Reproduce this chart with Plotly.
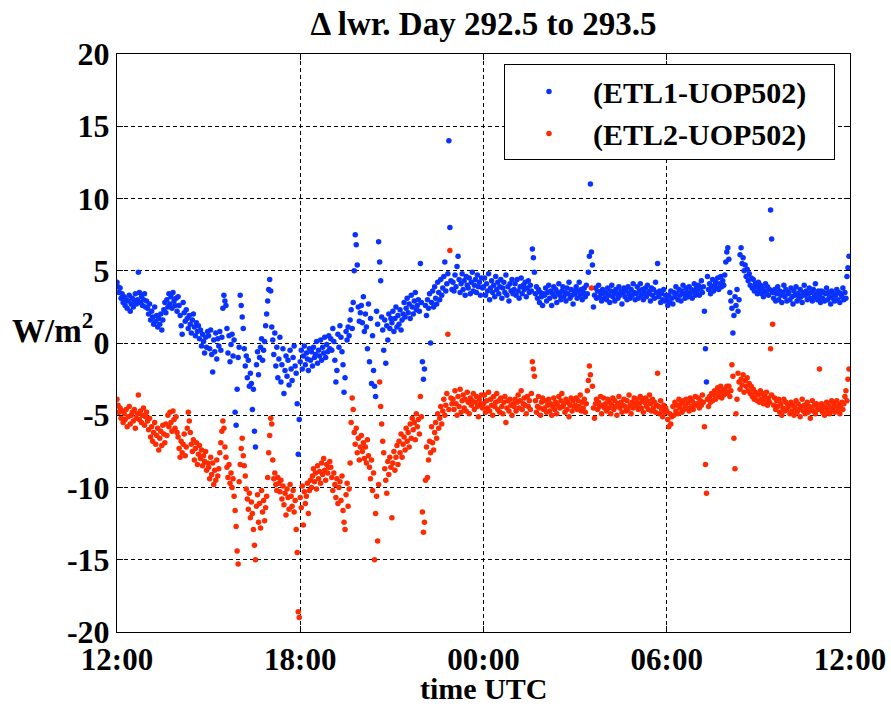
import pandas as pd
import plotly.graph_objects as go

# ---- data: 2-minute samples, 30 per hour, from 12:00 UTC (day 292.5) ----
start_time = "2000-10-18 12:00"
end_time = "2000-10-19 12:00"
step_minutes = 2

etl1_minus_uop = [
    # 12h
    4.2, 3.9, 3.5, 3.8, 3.1, 3.4, 2.8, 3.2, 2.6, 3.0, 2.4, 2.9, 3.3, 2.2, 2.7, 3.1, 2.5, 2.9, 3.4, 2.7, 3.0, 4.9, 3.5, 2.8, 3.2, 2.6, 3.0, 3.4, 2.5, 2.9,
    # 13h
    2.4, 2.0, 2.7, 1.6, 2.2, 1.8, 1.3, 2.5, 1.5, 1.9, 1.1, 1.7, 1.3, 2.0, 0.9, 1.6, 2.3, 2.8, 2.1, 3.0, 2.5, 3.4, 2.7, 3.2, 2.4, 3.5, 2.9, 2.6, 3.1, 2.2,
    # 14h
    3.2, 2.6, 1.9, 1.2, 0.6, 2.8, 2.1, 1.5, 2.3, 1.7, 1.0, 1.9, 1.3, 0.7, 1.6, 2.0, 1.1, 0.5, 1.4, 0.8, 1.2, 0.3, 0.9, -0.2, 0.6, 0.1, -0.7, 0.4, -0.3, 0.8,
    # 15h
    0.5, -0.4, 0.9, -0.8, -2.0, 0.2, -0.6, 0.7, -1.1, 0.3, -0.2, 0.8, -0.5, 0.4, 2.4, 3.3, 2.9, 2.6, 1.0, -0.7, 0.5, -1.3, -0.1, 0.6, -0.9, 0.2, -4.8, -5.7, -3.2, -1.0,
    # 16h
    -0.3, 3.3, 2.6, 1.8, 1.0, -0.4, -1.6, -0.9, -2.4, -1.2, -3.0, -2.1, -2.8, -4.6, -3.2, -6.1, -7.2, -1.5, -0.6, -2.2, -1.0, -0.3, 0.3, -1.2, -0.5, 0.1, 1.2, 2.0, 2.9, 3.7,
    # 17h
    4.4, 3.6, 1.1, 0.2, -0.8, 0.7, -1.6, -0.3, -2.4, -1.1, 0.4, -2.7, -1.5, -0.4, -3.5, -1.9, -0.9, -2.3, -1.2, -2.9, -0.5, -1.8, -2.6, -1.0, -0.2, -1.6, -2.1, -4.2, -7.7, -5.3,
    # 18h
    -1.3, -0.5, -1.8, -0.9, -0.2, -1.5, -0.7, -1.1, -1.9, -0.4, -1.2, -0.6, -1.6, -0.3, -1.0, -0.8, 0.1, -1.4, -0.5, -0.9, 0.2, -1.2, -0.3, -0.7, 0.4, -1.0, -0.1, -0.6, 0.5, -0.4,
    # 19h
    0.3, -0.5, 1.0, 0.1, -1.2, -2.7, -1.9, 0.6, -0.3, 1.2, 0.4, -0.6, -1.5, -3.4, -2.4, 0.8, 0.2, 1.1, 0.5, 1.6, 2.3, 1.0, 2.8, 5.0, 7.5, 6.8, 5.4, 2.5, 1.5, 2.1,
    # 20h
    2.6, 1.4, 3.2, 0.8, 2.0, 1.1, -0.4, 2.7, -1.3, 1.7, -2.8, 0.5, -1.9, -3.0, -3.7, 2.2, 1.3, 7.0, 5.6, 4.3, 1.8, 0.9, -0.5, 1.6, -1.4, 1.2, 0.2, 2.0, 1.0, 1.7,
    # 21h
    1.4, 2.2, 0.8, 1.7, 2.5, 1.1, 1.9, 1.3, 2.3, 0.9, 1.6, 2.0, 2.8, 1.8, 2.4, 3.1, 2.1, 2.7, 1.7, 3.3, 2.5, 2.0, 2.9, 3.5, 2.3, 2.6, 3.0, 2.2, 5.5, 2.8,
    # 22h
    -1.3, -2.5, -1.8, 2.6, 1.9, 3.0, 2.4, 3.4, 0.0, 2.8, 3.6, 2.5, 3.9, 3.1, 2.7, 4.2, 3.5, 3.0, 4.4, 3.3, 3.8, 4.6, 5.6, 3.6, 4.1, 4.8, 14.0, 8.0, 4.3, 3.7,
    # 23h
    4.2, 3.6, 4.7, 3.9, 5.3, 6.0, 4.4, 3.5, 4.1, 4.8, 3.7, 4.3, 3.3, 4.6, 4.0, 3.8, 4.5, 3.4, 4.2, 4.9, 3.6, 4.0, 4.4, 3.5, 4.7, 3.9, 4.2, 3.3, 4.5, 3.8,
    # 00h
    3.9, 4.5, 3.3, 4.1, 3.6, 4.8, 3.0, 3.8, 4.3, 3.5, 4.0, 3.2, 4.6, 3.7, 4.2, 3.4, 3.9, 4.4, 3.1, 3.8, 4.2, 3.5, 4.7, 3.3, 3.9, 2.9, 4.1, 3.6, 4.4, 3.4,
    # 01h
    3.7, 4.1, 3.3, 4.4, 3.6, 3.1, 3.9, 4.5, 3.4, 4.0, 3.7, 4.2, 3.2, 3.8, 4.3, 3.5, 4.0, 3.6, 6.5, 5.9, 4.9, 3.4, 3.9, 3.1, 3.7, 2.8, 3.5, 3.2, 2.6, 3.4,
    # 02h
    3.3, 3.8, 2.9, 3.5, 4.0, 3.1, 3.6, 2.6, 3.4, 3.9, 3.2, 3.7, 2.8, 3.5, 4.1, 3.3, 3.0, 3.6, 3.9, 3.2, 3.5, 2.9, 3.8, 3.4, 4.2, 3.1, 3.7, 3.3, 2.7, 3.6,
    # 03h
    3.4, 3.9, 3.1, 3.6, 4.2, 3.3, 3.7, 3.0, 3.5, 3.8, 3.2, 4.0, 3.4, 4.9, 6.0, 11.0, 6.3, 5.4, 2.5, 3.3, 3.8, 3.1, 3.6, 4.0, 3.2, 3.5, 2.9, 3.7, 3.4, 3.1,
    # 04h
    3.5, 3.0, 3.8, 3.3, 2.8, 3.6, 4.0, 3.2, 3.5, 2.9, 3.7, 3.4, 3.1, 3.9, 3.3, 3.6, 2.7, 3.5, 3.8, 3.2, 3.6, 3.0, 3.9, 3.4, 3.1, 3.7, 3.3, 4.1, 3.5, 3.0,
    # 05h
    3.4, 3.9, 3.1, 3.6, 4.1, 3.3, 3.7, 3.0, 3.5, 3.8, 3.2, 4.0, 3.4, 3.6, 2.9, 3.8, 3.3, 3.7, 3.1, 4.2, 3.5, 5.5, 3.2, 3.6, 2.8, 3.4, 3.0, 3.7, 2.9, 3.3,
    # 06h
    3.0, 2.6, 3.3, 2.8, 3.6, 3.1, 2.7, 3.5, 3.2, 3.9, 3.4, 3.0, 3.7, 3.3, 2.9, 3.6, 4.0, 3.4, 3.1, 3.8, 3.5, 3.2, 3.9, 3.4, 3.7, 3.1, 3.6, 4.1, 3.3, 3.8,
    # 07h
    3.6, 4.0, 3.3, 3.8, 4.3, 3.5, 3.9, 2.2, -0.4, -2.7, 4.6, 3.7, 4.1, 3.4, 3.9, 4.4, 3.6, 4.0, 4.2, 3.8, 4.5, 3.7, 4.1, 4.6, 3.9, 4.3, 4.0, 4.7, 5.6, 6.3,
    # 08h
    6.6, 5.8, 3.5, 2.9, 2.4, 0.7, 1.9, 3.2, 2.6, 3.7, 2.2, 3.0, 6.1, 6.6, 5.5, 5.9, 5.0, 5.4, 4.6, 5.1, 4.3, 4.8, 4.0, 4.5, 3.8, 4.4, 3.6, 4.1, 3.9, 3.4,
    # 09h
    4.2, 3.7, 4.0, 3.4, 3.8, 3.2, 3.6, 4.1, 3.5, 3.9, 3.3, 3.7, 9.2, 7.2, 3.5, 3.1, 3.7, 2.9, 3.4, 3.9, 3.0, 3.6, 3.3, 2.8, 3.5, 4.0, 3.2, 3.7, 2.9, 3.4,
    # 10h
    3.5, 3.0, 3.8, 3.2, 2.7, 3.6, 3.3, 3.9, 2.9, 3.4, 3.1, 3.7, 3.2, 2.8, 3.5, 4.0, 3.3, 3.6, 3.0, 3.4, 3.8, 3.1, 3.5, 2.9, 3.7, 3.2, 4.1, 3.4, 3.0, 3.6,
    # 11h
    3.3, 2.8, 3.6, 3.1, 3.5, 2.9, 3.4, 3.8, 3.0, 3.5, 3.2, 2.7, 3.6, 3.1, 3.4, 2.9, 3.3, 3.7, 3.0, 3.5, 2.8, 3.4, 3.2, 3.8, 3.0, 3.5, 3.1, 4.6, 5.2, 6.0,
]

etl2_minus_uop = [
    # 12h
    -3.9, -4.3, -4.8, -4.5, -5.2, -4.7, -5.5, -4.9, -5.3, -4.6, -5.8, -5.1, -4.4, -5.6, -5.0, -4.8, -5.4, -4.6, -5.9, -5.2, -4.9, -3.6, -5.3, -4.7, -5.5, -5.0, -4.5, -5.7, -5.1, -4.8,
    # 13h
    -5.4, -6.0, -5.2, -6.5, -5.8, -6.8, -6.2, -5.5, -7.0, -6.4, -5.9, -7.4, -6.6, -6.1, -7.1, -5.7, -6.3, -6.9, -5.6, -6.4, -5.0, -5.8, -4.8, -5.5, -6.1, -4.7, -5.3, -5.9, -5.1, -6.2,
    # 14h
    -6.5, -7.3, -7.9, -6.8, -7.6, -7.0, -6.3, -7.8, -7.2, -5.9, -4.8, -5.4, -6.2, -7.0, -7.5, -6.7, -8.1, -7.3, -6.9, -8.4, -7.7, -7.1, -8.0, -7.4, -8.5, -7.8, -8.2, -7.5, -8.8, -8.3,
    # 15h
    -8.6, -9.4, -7.9, -9.1, -8.3, -9.8, -8.8, -9.5, -8.1, -9.2, -8.7, -7.6, -6.9, -6.1, -5.4, -5.9, -7.2, -7.9, -8.6, -9.3, -8.4, -9.7, -9.0, -10.0, -9.4, -10.6, -11.6, -12.7, -14.4, -15.3,
    # 16h
    -9.6, -8.4, -7.3, -6.6, -7.8, -8.5, -9.2, -10.1, -10.8, -11.5, -10.4, -12.1, -11.0, -11.8, -12.9, -14.0, -15.0, -11.3, -10.5, -12.4, -11.1, -12.8, -10.2, -11.7, -10.9, -12.3, -11.4, -10.6, -9.3, -7.6,
    # 17h
    -6.4, -5.2, -5.6, -8.1, -9.4, -9.0, -9.8, -10.2, -9.3, -9.7, -10.3, -9.5, -10.8, -9.9, -11.2, -10.4, -11.9, -10.1, -10.7, -11.5, -9.8, -10.6, -11.3, -10.2, -11.7, -10.9, -12.9, -14.5, -18.6, -19.0,
    # 18h
    -10.7, -11.4, -9.9, -12.6, -10.3, -11.1, -10.6, -9.7, -11.8, -10.2, -9.5, -10.0, -9.2, -8.7, -9.6, -9.0, -10.1, -8.5, -9.4, -8.9, -9.7, -8.3, -9.1, -8.0, -8.8, -9.5, -8.4, -9.0, -8.6, -8.2,
    # 19h
    -8.6, -9.3, -10.2, -9.0, -9.8, -10.7, -9.4, -11.1, -10.0, -9.6, -10.9, -9.2, -11.6, -12.4, -12.9, -10.5, -9.7, -11.3, -10.1, -8.3, -5.5, -3.8, -4.6, -6.2, -7.0, -5.9, -7.6, -6.6, -8.1, -7.2,
    # 20h
    -6.4, -7.5, -6.9, -8.0, -7.2, -8.3, -6.7, -7.8, -8.6, -9.4, -8.1, -10.2, -9.0, -15.0, -11.8, -10.6, -13.7, -9.8, -2.7, -4.4, -5.6, -6.8, -7.6, -8.7, -9.5, -10.4, -8.2, -9.1, -7.9, -8.6,
    # 21h
    -12.1, -8.3, -7.5, -8.8, -7.9, -7.1, -8.4, -6.8, -7.6, -6.3, -7.9, -7.0, -6.5, -7.4, -5.9, -6.8, -6.2, -7.2, -5.6, -6.6, -5.2, -6.0, -5.5, -6.7, -4.9, -5.8, -5.3, -6.3, -3.7, -5.1,
    # 22h
    -11.7, -13.1, -12.4, -9.5, -7.2, -9.3, -8.1, -6.8, -7.6, -5.8, -6.9, -7.4, -6.2, -5.5, -6.6, -4.9, -5.9, -5.2, -4.4, -5.6, -4.7, -3.9, -5.0, -4.3, -3.5, 0.6, -4.6, 6.4, -3.8, -4.2,
    # 23h
    -3.9, -4.6, -3.3, -4.2, -5.0, -3.7, -4.4, -3.2, -4.8, -4.0, -3.6, -4.5, -3.9, -4.7, -3.4, -4.1, -4.9, -3.8, -4.3, -4.0, -3.5, -4.6, -4.1, -3.7, -4.4, -5.1, -3.9, -4.2, -3.6, -4.5,
    # 00h
    -4.2, -3.6, -4.8, -4.0, -4.5, -3.4, -4.7, -3.9, -4.3, -5.0, -3.7, -4.4, -4.1, -3.5, -4.6, -4.0, -4.8, -3.8, -4.4, -4.9, -4.1, -3.7, -5.5, -4.5, -4.0, -4.7, -3.9, -4.3, -5.0, -4.2,
    # 01h
    -4.4, -3.9, -4.7, -4.1, -3.6, -4.5, -4.0, -3.3, -4.6, -4.2, -3.8, -4.3, -4.9, -3.7, -4.4, -4.0, -4.6, -3.5, -1.3, -1.8, -2.3, -4.0, -4.8, -4.4, -3.7, -4.5, -5.0, -4.1, -3.8, -4.6,
    # 02h
    -4.5, -4.0, -4.8, -4.3, -3.9, -4.7, -4.2, -5.0, -4.4, -3.8, -4.6, -4.1, -4.9, -4.3, -3.7, -4.5, -4.0, -3.5, -4.4, -4.2, -4.8, -3.9, -4.6, -4.1, -5.1, -4.3, -3.8, -4.7, -4.0, -4.4,
    # 03h
    -4.3, -3.8, -4.6, -4.0, -4.4, -3.6, -4.7, -4.1, -4.5, -3.9, -4.8, -4.2, -3.3, -2.6, -1.6, -2.2, 3.8, -3.0, -4.5, -5.2, -4.2, -3.9, -4.6, -4.1, -4.4, -3.7, -4.9, -4.3, -3.8, -4.5,
    # 04h
    -4.2, -4.7, -3.9, -4.5, -4.1, -4.9, -4.3, -3.8, -4.6, -4.0, -4.4, -5.0, -4.2, -3.7, -4.5, -4.1, -4.8, -4.3, -3.9, -4.4, -4.7, -4.0, -4.6, -3.6, -4.3, -4.9, -4.1, -4.5, -3.8, -4.2,
    # 05h
    -4.3, -3.9, -4.6, -4.2, -3.7, -4.5, -4.0, -4.8, -4.1, -3.8, -4.4, -4.0, -4.6, -3.6, -4.2, -4.7, -3.9, -4.5, -4.1, -4.8, -4.3, -2.1, -4.4, -4.9, -4.0, -4.6, -5.1, -4.3, -4.8, -4.5,
    # 06h
    -4.7, -5.3, -5.8, -4.9, -5.6, -5.1, -4.4, -5.0, -4.1, -4.7, -4.3, -4.9, -3.9, -4.5, -4.2, -4.8, -4.0, -4.6, -4.3, -3.9, -4.5, -4.1, -4.7, -3.8, -4.4, -4.0, -4.6, -4.2, -3.7, -4.3,
    # 07h
    -4.2, -3.8, -4.5, -4.0, -4.3, -3.6, -4.1, -5.8, -8.4, -10.4, -3.9, -4.4, -3.7, -4.1, -3.5, -4.0, -3.6, -3.3, -3.9, -3.5, -3.1, -3.7, -3.4, -3.0, -3.8, -3.3, -3.6, -3.2, -3.5, -3.0,
    # 08h
    -3.4, -3.0, -3.7, -3.3, -1.5, -2.3, -6.6, -8.7, -4.9, -3.9, -2.1, -2.7, -3.2, -2.5, -2.9, -2.2, -3.4, -2.6, -3.0, -2.4, -3.3, -2.8, -3.5, -3.0, -3.7, -3.2, -3.9, -3.4, -3.6, -4.0,
    # 09h
    -3.6, -4.1, -3.3, -3.9, -3.5, -4.2, -3.7, -4.0, -3.4, -4.3, -3.8, -4.1, -0.4, -3.6, 1.3, -4.3, -3.8, -4.6, -4.0, -4.4, -3.9, -4.8, -4.2, -5.0, -4.5, -3.9, -4.7, -4.1, -4.6, -4.3,
    # 10h
    -4.4, -4.9, -4.1, -4.7, -4.3, -5.0, -4.5, -4.0, -4.8, -4.2, -4.6, -5.1, -4.4, -3.9, -4.7, -4.3, -4.9, -4.5, -4.1, -4.8, -4.4, -5.2, -4.6, -4.0, -4.7, -4.3, -4.9, -4.2, -4.6, -4.4,
    # 11h
    -1.8, -4.6, -4.2, -4.8, -4.4, -5.0, -4.5, -4.1, -4.7, -4.3, -4.9, -4.6, -4.0, -4.5, -4.2, -4.8, -4.4, -4.0, -4.7, -4.3, -4.9, -4.5, -4.1, -4.6, -4.2, -3.7, -3.3, -4.0, -2.5, -1.8,
]

series_names = ["(ETL1-UOP502)", "(ETL2-UOP502)"]
series_colors = ["#0a32ff", "#ff2a00"]

y_tick_values = [20, 15, 10, 5, 0, -5, -10, -15, -20]
y_tick_labels = ["20", "15", "10", "5", "0", "-5", "-10", "-15", "-20"]

times = pd.date_range(start_time, periods=len(etl1_minus_uop), freq=f"{step_minutes}min")

FONT = "Liberation Serif"
W, H = 891, 707
PAD = "\u00a0\u00a0\u00a0"

fig = go.Figure()
for name, vals, col in zip(series_names, [etl1_minus_uop, etl2_minus_uop], series_colors):
    fig.add_trace(go.Scatter(
        x=times, y=vals, mode="markers", name=name + PAD,
        marker=dict(color=col, size=5.5, line=dict(width=0)),
    ))

fig.update_layout(
    width=W, height=H,
    margin=dict(l=117, r=41, t=54, b=75, autoexpand=False),
    paper_bgcolor="white", plot_bgcolor="white",
    font=dict(family=FONT, size=31, color="black", weight="bold"),
    title=dict(text="Δ lwr. Day 292.5 to 293.5", x=483.5 / W, xanchor="center",
               y=1 - 23 / H, yanchor="middle",
               font=dict(family=FONT, size=33, color="black", weight="bold")),
    showlegend=True,
    legend=dict(x=0.9795, y=0.982, xanchor="right", yanchor="top",
                bgcolor="white", bordercolor="black", borderwidth=1,
                font=dict(family=FONT, size=30, color="black", weight="bold"),
                itemsizing="trace", itemwidth=78, tracegroupgap=0),
)

fig.update_xaxes(
    type="date", range=[start_time, end_time],
    tick0=start_time, dtick=6 * 3600 * 1000, tickformat="%H:%M",
    showgrid=True, gridcolor="black", gridwidth=1, griddash="4px,3px",
    showline=True, linecolor="black", linewidth=1, mirror="ticks",
    ticks="inside", ticklen=6, tickcolor="black",
    zeroline=False, automargin=False, ticklabeloverflow="allow",
    tickfont=dict(family=FONT, size=31, weight="bold"),
)
fig.update_yaxes(
    range=[-20, 20], tickvals=y_tick_values, ticktext=y_tick_labels,
    showgrid=True, gridcolor="black", gridwidth=1, griddash="4px,3px",
    showline=True, linecolor="black", linewidth=1, mirror="ticks",
    ticks="inside", ticklen=6, tickcolor="black",
    zeroline=False, automargin=False, ticklabeloverflow="allow",
    tickfont=dict(family=FONT, size=32, weight="bold"),
)

fig.add_annotation(
    text="W/m<sup>2</sup>", xref="paper", yref="paper",
    x=(95 - 117) / 733, y=(632.5 - 328) / 578, xanchor="right", yanchor="middle",
    showarrow=False, font=dict(family=FONT, size=33, color="black", weight="bold"),
)
fig.add_annotation(
    text="time UTC", xref="paper", yref="paper",
    x=0.5, y=(632.5 - 706) / 578, xanchor="center", yanchor="bottom",
    showarrow=False, borderpad=0,
    font=dict(family=FONT, size=30, color="black", weight="bold"),
)

fig.write_html("out.html", config={"displayModeBar": False},
               post_script="document.body.style.margin='0';")
